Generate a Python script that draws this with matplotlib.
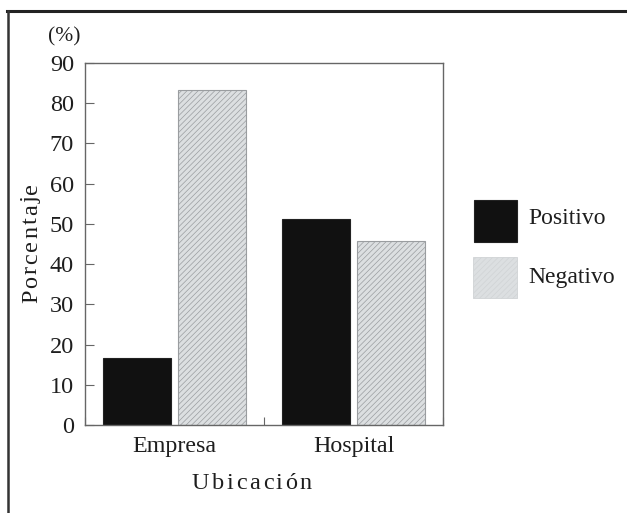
import matplotlib
matplotlib.use("Agg")
import matplotlib.pyplot as plt
from matplotlib.lines import Line2D
from matplotlib.patches import Rectangle

# --- Data ---
categories = ["Empresa", "Hospital"]
series_names = ["Positivo", "Negativo"]
positivo = [16.6, 51.1]
negativo = [83.3, 45.7]
y_ticks = [0, 10, 20, 30, 40, 50, 60, 70, 80, 90]

plt.rcParams["font.family"] = ["Liberation Serif", "DejaVu Serif"]
plt.rcParams["hatch.linewidth"] = 0.5
plt.rcParams["hatch.color"] = "#c6cacd"

W, H = 627, 513
fig = plt.figure(figsize=(6.27, 5.13), dpi=100)
ax = fig.add_axes([85 / W, 1 - 425 / H, 358 / W, 362 / H])

TXT = "#1e1e1e"
NEG_FACE = "#dcdfe1"
NEG_EDGE = "#9a9da0"
POS_FACE = "#111111"

centers = [0.5, 1.5]
bw = 0.38
off = 0.21
ax.bar([c - off for c in centers], positivo, width=bw, color=POS_FACE,
       edgecolor="#222222", linewidth=0.8)
ax.bar([c + off for c in centers], negativo, width=bw, color=NEG_FACE,
       edgecolor=NEG_EDGE, linewidth=0.8, hatch="//////")

ax.set_xlim(0, 2)
ax.set_ylim(0, 90)
ax.set_yticks(y_ticks)
ax.set_yticklabels([str(v) for v in y_ticks], fontsize=17.5, color=TXT)
ax.tick_params(axis="y", direction="in", length=6.5, width=0.8, color="#666666", pad=8)

ax.set_xticks(centers)
ax.set_xticklabels(categories, fontsize=17.3, color=TXT)
ax.set_xticks([0, 1, 2], minor=True)
ax.tick_params(axis="x", which="major", length=0, pad=8)
ax.tick_params(axis="x", which="minor", direction="in", length=6, width=0.8, color="#666666")

for sp in ax.spines.values():
    sp.set_color("#666666")
    sp.set_linewidth(1.0)

renderer = fig.canvas.get_renderer()


def spaced_text(s, cx, cy, size, total_px, vertical=False):
    """Draw s letter by letter so that it spans total_px pixels.
    cx, cy: pixel position of the baseline centre of the word."""
    widths = []
    for ch in s:
        t = fig.text(0, 0, ch, fontsize=size)
        widths.append(t.get_window_extent(renderer).width)
        t.remove()
    gap = (total_px - sum(widths)) / (len(s) - 1)
    pos = -total_px / 2
    for ch, w in zip(s, widths):
        mid = pos + w / 2
        if vertical:
            fig.text(cx / W, 1 - (cy - mid) / H, ch, fontsize=size, rotation=90,
                     rotation_mode="anchor", ha="center", va="baseline", color=TXT)
        else:
            fig.text((cx + mid) / W, 1 - cy / H, ch, fontsize=size,
                     ha="center", va="baseline", color=TXT)
        pos += w + gap


# axis titles, letter spaced
spaced_text("Ubicación", 252, 489, 17.5, 120)
spaced_text("Porcentaje", 37, 243, 17.5, 120, vertical=True)
fig.text(64 / W, 1 - 37 / H, "(%)", fontsize=15.5, ha="center", va="center", color=TXT)

# legend, drawn by hand
fig.add_artist(Rectangle((474 / W, 1 - 242 / H), 43 / W, 42 / H, transform=fig.transFigure,
                         facecolor=POS_FACE, edgecolor="#222222", linewidth=0.8))
fig.add_artist(Rectangle((473 / W, 1 - 298 / H), 44 / W, 41 / H, transform=fig.transFigure,
                         facecolor=NEG_FACE, edgecolor="#d0d3d5", linewidth=0.6, hatch="//////"))
fig.text(528 / W, 1 - 219 / H, series_names[0], fontsize=17, ha="left", va="center", color=TXT)
fig.text(528 / W, 1 - 278 / H, series_names[1], fontsize=17, ha="left", va="center", color=TXT)

# outer frame (top and left only)
fig.add_artist(Line2D([7 / W, 1], [1 - 10.5 / H, 1 - 10.5 / H], color="#222222",
                      linewidth=2.2, transform=fig.transFigure))
fig.add_artist(Line2D([8 / W, 8 / W], [0, 1 - 10.5 / H], color="#333333",
                      linewidth=1.8, transform=fig.transFigure))

fig.savefig("out.png", dpi=100)
